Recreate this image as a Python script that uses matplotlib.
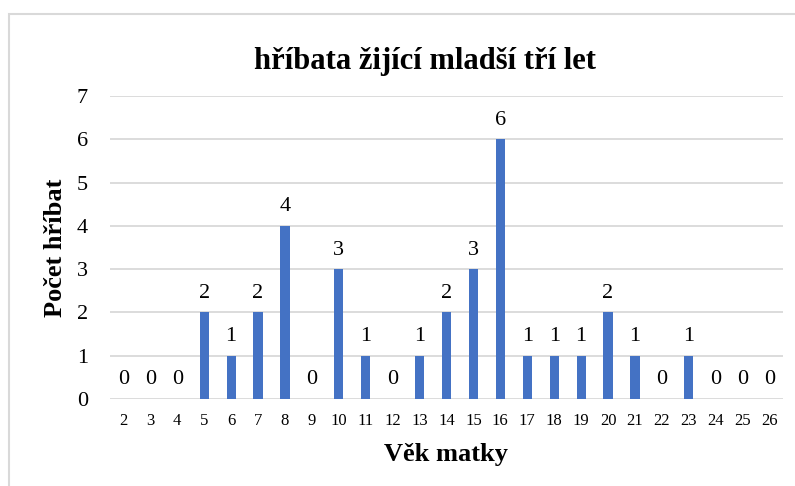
import matplotlib.pyplot as plt
from matplotlib.patches import Rectangle

vek = [2, 3, 4, 5, 6, 7, 8, 9, 10, 11, 12, 13, 14, 15, 16, 17, 18, 19, 20, 21, 22, 23, 24, 25, 26]
pocet = [0, 0, 0, 2, 1, 2, 4, 0, 3, 1, 0, 1, 2, 3, 6, 1, 1, 1, 2, 1, 0, 1, 0, 0, 0]

plt.rcParams['font.family'] = ['Liberation Serif', 'DejaVu Serif']

fig = plt.figure(figsize=(7.95, 4.86), dpi=100)
ax = fig.add_axes([110/795, 1 - 399/486, (783 - 110)/795, (399 - 96)/486])

# outer chart frame (cut off on right and bottom)
fig.patches.append(Rectangle((8.5/795, -0.1), 1.2, 1 - 13.5/486 + 0.1,
                             transform=fig.transFigure, fill=False,
                             edgecolor='#d9d9d9', linewidth=1.5, zorder=0))

x = list(range(len(vek)))
bars = ax.bar(x, pocet, width=0.34, color='#4472c4', zorder=3)
for xi, v in zip(x, pocet):
    ax.text(xi, v + 0.22, str(v), ha='center', va='bottom', fontsize=16, color='#000000')

ax.set_xlim(-0.5, len(vek) - 0.5)
ax.set_ylim(0, 7)
ax.set_yticks(range(0, 8))
ax.set_xticks(x)
ax.set_xticklabels([str(v) for v in vek], fontsize=12)
ax.tick_params(axis='y', labelsize=16, length=0, pad=16)
ax.tick_params(axis='x', length=0, pad=10)
ax.yaxis.grid(True, color='#d9d9d9', linewidth=1.3, zorder=0)
for s in ax.spines.values():
    s.set_visible(False)

ax.set_xlabel('Věk matky', fontsize=19, fontweight='bold', labelpad=10)
ax.set_ylabel('Počet hříbat', fontsize=19, fontweight='bold', labelpad=7)
fig.text(425/795, 1 - 62/486, 'hříbata žijící mladší tří let', ha='center', va='center',
         fontsize=22, fontweight='bold')

fig.savefig('out.png', dpi=100)
